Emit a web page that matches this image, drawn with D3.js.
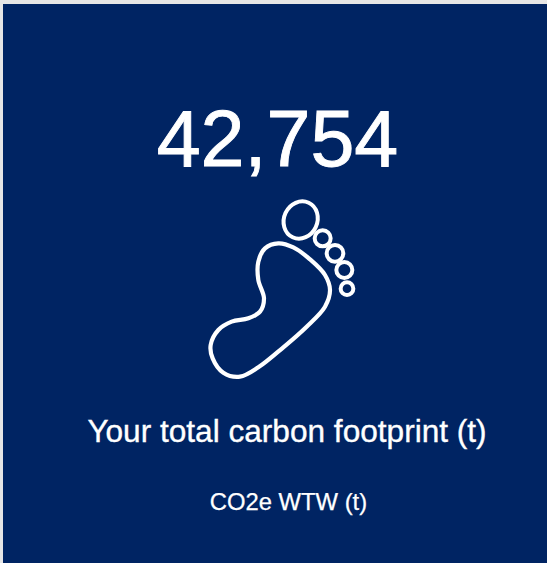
<!DOCTYPE html>
<html><head><meta charset="utf-8">
<script src="https://cdn.jsdelivr.net/npm/d3@7"></script>
<style>html,body{margin:0;padding:0;background:#e6e6e6;overflow:hidden}svg{display:block}text{font-family:"Liberation Sans",Arial,sans-serif;fill:#fff;stroke:#fff;text-anchor:middle}</style>
</head><body><div id="c"></div>
<script>
const valueLabel = "42,754";
const titleLabel = "Your total carbon footprint (t)";
const unitLabel = "CO2e WTW (t)";
const footOutline = [[265,160],[310,172],[360,208],[405,255],[420,300],[405,350],[350,410],[280,472],[205,532],[150,560],[100,548],[68,505],[62,465],[85,420],[125,395],[175,385],[210,365],[222,325],[205,270],[205,215],[225,175]];
const toes = [[332,90,50,57],[398,145,24,24],[435,190,25,25],[463,240,24,24],[471,296,19,19]];

const svg = d3.select("#c").append("svg").attr("width",547).attr("height",563);
svg.append("defs").append("filter").attr("id","soft").append("feGaussianBlur").attr("stdDeviation",0.45);
svg.append("rect").attr("x",3).attr("y",4).attr("width",544).attr("height",559).attr("fill","#002463");
const x = d3.scaleLinear().domain([0,540]).range([190,370]);
const y = d3.scaleLinear().domain([0,600]).range([190,390]);
const line = d3.line().x(d=>x(d[0])).y(d=>y(d[1])).curve(d3.curveCatmullRomClosed.alpha(0.5));
const foot = svg.append("g").attr("filter","url(#soft)");
foot.append("path").attr("d",line(footOutline)).attr("fill","none").attr("stroke","#fff").attr("stroke-width",4.2);
foot.selectAll("ellipse").data(toes).join("ellipse")
 .attr("cx",d=>x(d[0])).attr("cy",d=>y(d[1]))
 .attr("rx",d=>x(d[2])-x(0)).attr("ry",d=>y(d[3])-y(0))
 .attr("transform",(d,i)=>i==0?`rotate(25 ${x(d[0])} ${y(d[1])})`:null)
 .attr("fill","none").attr("stroke","#fff").attr("stroke-width",4);
svg.append("text").attr("x",277.5).attr("y",166).attr("font-size",79).attr("stroke-width",0.9).text(valueLabel);
svg.append("text").attr("x",287).attr("y",442).attr("font-size",31.6).attr("stroke-width",0.35).text(titleLabel);
svg.append("text").attr("x",288.5).attr("y",510).attr("font-size",23.8).attr("stroke-width",0.25).text(unitLabel);
</script></body></html>
